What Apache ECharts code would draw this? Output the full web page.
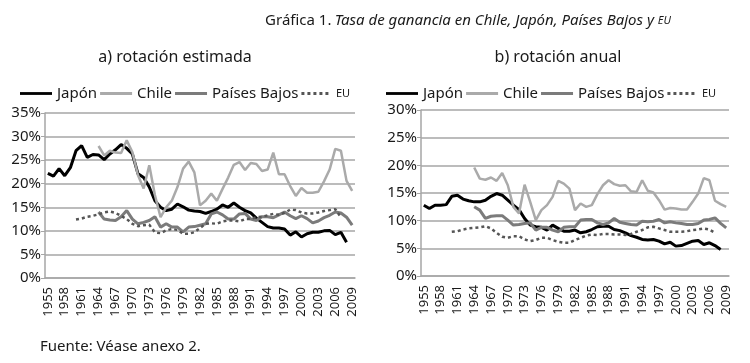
<!DOCTYPE html>
<html><head><meta charset="utf-8">
<script src="https://cdn.jsdelivr.net/npm/echarts@6/dist/echarts.min.js"></script>
<style>html,body{margin:0;padding:0;background:#fff;}#c{width:750px;height:363px;}</style>
</head><body><div id="c"></div>
<script>
const years = ['1955','1956','1957','1958','1959','1960','1961','1962','1963','1964',
'1965','1966','1967','1968','1969','1970','1971','1972','1973','1974',
'1975','1976','1977','1978','1979','1980','1981','1982','1983','1984',
'1985','1986','1987','1988','1989','1990','1991','1992','1993','1994',
'1995','1996','1997','1998','1999','2000','2001','2002','2003','2004',
'2005','2006','2007','2008','2009'];

const seriesNames = ['Japón','Chile','Países Bajos','EU'];

// a) rotación estimada (%)
const japonA = [22.2,21.6,23.2,21.7,23.4,27.0,28.1,25.6,26.2,26.1,
25.1,26.3,27.2,28.3,27.5,26.3,22.1,21.3,19.3,16.4,
15.0,14.3,14.6,15.7,15.1,14.4,14.2,14.1,13.7,14.1,
14.6,15.5,15.0,15.9,15.0,14.3,13.8,12.7,11.8,10.9,
10.6,10.6,10.4,9.1,9.8,8.7,9.4,9.7,9.7,10.0,
10.1,9.2,9.7,7.6,null];
const chileA = [null,null,null,null,null,null,null,null,null,28.0,
26.0,27.0,26.6,26.5,29.2,26.7,21.8,19.0,23.9,17.6,
12.9,15.0,16.4,19.3,23.2,24.7,22.4,15.4,16.4,17.9,
16.4,18.9,21.3,24.0,24.6,22.9,24.4,24.2,22.7,23.0,
26.6,22.0,22.0,19.5,17.4,19.1,18.1,18.1,18.3,20.5,
23.0,27.4,27.0,20.6,18.5];
const paisesA = [null,null,null,null,null,null,null,null,null,14.0,
12.5,12.3,12.2,13.0,14.3,12.5,11.5,11.8,12.2,13.0,
10.8,11.5,10.8,10.8,9.8,10.8,10.9,11.2,11.5,13.6,
14.0,13.4,12.5,12.5,13.6,13.7,12.5,12.2,13.0,13.0,
12.8,13.4,14.0,13.2,12.6,13.2,12.6,11.7,12.1,12.8,
13.3,14.0,13.8,12.9,11.2];
const euA = [null,null,null,null,null,12.4,12.6,13.0,13.2,13.5,
13.9,14.1,13.8,13.2,12.5,11.5,11.0,11.2,11.3,9.7,
9.5,10.1,10.4,10.2,9.4,9.4,9.7,10.6,11.5,11.6,
11.5,12.0,12.2,12.2,12.0,12.5,12.5,12.9,13.0,13.3,
13.6,13.4,13.8,14.5,14.4,13.9,13.7,13.7,13.9,14.2,
14.4,14.6,12.9,null,null];

// b) rotación anual (%)
const japonB = [12.8,12.2,12.8,12.8,12.9,14.4,14.6,13.9,13.6,13.4,
13.4,13.7,14.4,14.9,14.6,13.7,12.8,12.0,10.4,9.2,
8.9,8.8,8.3,9.2,8.6,8.1,8.1,8.3,7.8,8.0,
8.4,8.9,9.0,9.0,8.4,8.2,7.8,7.3,7.0,6.6,
6.5,6.6,6.3,5.8,6.1,5.4,5.5,5.9,6.3,6.4,
5.7,6.0,5.5,4.8,null];
const chileB = [null,null,null,null,null,null,null,null,null,19.6,
17.6,17.4,17.8,17.2,18.6,16.4,12.5,11.3,16.5,13.4,
10.1,11.9,12.8,14.3,17.2,16.7,15.8,11.9,13.1,12.5,
12.8,14.8,16.4,17.3,16.6,16.3,16.4,15.3,15.2,17.3,
15.4,15.1,13.7,12.0,12.3,12.2,12.0,12.0,13.4,14.9,
17.7,17.3,13.6,13.0,12.5];
const paisesB = [null,null,null,null,null,null,null,null,null,12.5,
11.9,10.4,10.8,10.9,10.9,10.1,9.2,9.3,9.5,9.6,
8.3,8.8,8.8,8.3,8.0,8.8,8.9,8.9,10.1,10.2,
10.2,9.6,9.3,9.6,10.4,9.7,9.5,9.3,9.2,9.9,
9.8,9.9,10.2,9.6,9.8,9.6,9.5,9.3,9.3,9.5,
10.1,10.2,10.5,9.5,8.7];
const euB = [null,null,null,null,null,8.0,8.1,8.4,8.6,8.7,
8.8,9.0,8.6,7.8,7.1,6.9,7.2,7.2,6.6,6.3,
6.5,6.9,6.9,6.5,6.2,6.0,6.0,6.5,6.9,7.3,
7.5,7.4,7.6,7.6,7.5,7.5,7.4,7.6,8.0,8.3,
8.8,8.9,8.6,8.3,8.0,8.0,8.0,8.1,8.3,8.4,
8.6,8.4,7.8,null,null];

const FONT = '"Noto Sans", sans-serif';
const AX = '#a6a6a6';
const TXT = '#1a1a1a';

const styles = {
  'Japón': {color:'#000000', width:3, type:'solid'},
  'Chile': {color:'#aaaaaa', width:2.5, type:'solid'},
  'Países Bajos': {color:'#7b7b7b', width:3, type:'solid'},
  'EU': {color:'#555555', width:2.5, type:[3,3]}
};
const SOLID_ICON = 'path://M0,0h34v3h-34z';
const DOT_ICON = 'path://M0,0h3v3h-3zM6,0h3v3h-3zM12,0h3v3h-3zM18,0h3v3h-3zM24,0h3v3h-3z';

function xAxis(gi){
  return {type:'category', gridIndex:gi, data:years, boundaryGap:true,
    axisLine:{lineStyle:{color:AX, width:1.5}},
    axisTick:{interval:0, length:5, lineStyle:{color:AX, width:1}},
    axisLabel:{interval:2, rotate:90, fontSize:13, color:TXT, fontFamily:FONT, margin:9},
    splitLine:{show:false}};
}
function yAxis(gi, max){
  return {type:'value', gridIndex:gi, min:0, max:max, interval:5,
    axisLine:{show:true, lineStyle:{color:AX, width:1.5}},
    axisTick:{show:true, length:4, lineStyle:{color:AX}},
    axisLabel:{formatter:'{value}%', fontSize:15, color:TXT, fontFamily:FONT, margin:4},
    splitLine:{show:true, lineStyle:{color:AX, width:1.5}}};
}
function mkSeries(name, data, gi){
  const s = styles[name];
  return {name:name, type:'line', xAxisIndex:gi, yAxisIndex:gi, data:data,
    symbol:'none', showSymbol:false, connectNulls:false, animation:false,
    lineStyle:{color:s.color, width:s.width, type:s.type}, itemStyle:{color:s.color}};
}
function mkLegend(left){
  return {left:left, top:81, itemWidth:32, itemHeight:3, itemGap:3,
    data:seriesNames.map(function(n){ return {name:n, icon: n === 'EU' ? DOT_ICON : SOLID_ICON}; }),
    formatter:function(n){ return n === 'EU' ? '{s|EU}' : n; },
    textStyle:{fontSize:15, color:TXT, fontFamily:FONT,
      rich:{s:{fontSize:11, color:TXT, fontFamily:FONT}}}};
}

const chart = echarts.init(document.getElementById('c'), null, {renderer:'canvas'});
chart.setOption({
  animation:false,
  backgroundColor:'#ffffff',
  grid:[
    {left:45, top:113, width:310, height:165, containLabel:false},
    {left:421, top:110, width:308, height:166, containLabel:false}
  ],
  xAxis:[xAxis(0), xAxis(1)],
  yAxis:[yAxis(0,35), yAxis(1,30)],
  legend:[mkLegend(15), mkLegend(381)],
  series:[
    mkSeries('Japón', japonA, 0), mkSeries('Chile', chileA, 0),
    mkSeries('Países Bajos', paisesA, 0), mkSeries('EU', euA, 0),
    mkSeries('Japón', japonB, 1), mkSeries('Chile', chileB, 1),
    mkSeries('Países Bajos', paisesB, 1), mkSeries('EU', euB, 1)
  ],
  graphic:[
    {type:'text', x:468, y:21, style:{
      text:'{n|Gráfica 1.} {i|Tasa de ganancia en Chile, Japón, Países Bajos y }{s|EU}',
      align:'center', verticalAlign:'middle', textAlign:'center', textVerticalAlign:'middle',
      rich:{
        n:{fontSize:15, fontFamily:FONT, fill:TXT},
        i:{fontSize:15, fontFamily:FONT, fontStyle:'italic', fill:TXT},
        s:{fontSize:11, fontFamily:FONT, fontStyle:'italic', fill:TXT}
      }}},
    {type:'text', x:175, y:57, style:{text:'a) rotación estimada', font:'16px "Noto Sans", sans-serif', fill:TXT,
      align:'center', verticalAlign:'middle', textAlign:'center', textVerticalAlign:'middle'}},
    {type:'text', x:558, y:57, style:{text:'b) rotación anual', font:'16px "Noto Sans", sans-serif', fill:TXT,
      align:'center', verticalAlign:'middle', textAlign:'center', textVerticalAlign:'middle'}},
    {type:'text', x:40, y:347, style:{text:'Fuente: Véase anexo 2.', font:'15px "Noto Sans", sans-serif', fill:TXT,
      align:'left', verticalAlign:'middle', textAlign:'left', textVerticalAlign:'middle'}}
  ]
});
</script>
</body></html>
